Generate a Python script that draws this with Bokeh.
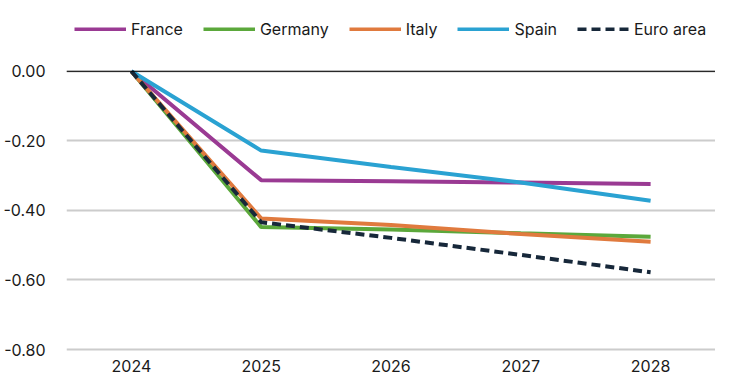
from bokeh.plotting import figure
from bokeh.models import Legend, LegendItem, Span, FixedTicker, Range1d, NumeralTickFormatter
from bokeh.embed import file_html
from bokeh.resources import INLINE

years = ["2024", "2025", "2026", "2027", "2028"]
france = [0.0, -0.313, -0.316, -0.320, -0.324]
germany = [0.0, -0.448, -0.455, -0.466, -0.476]
italy = [0.0, -0.423, -0.442, -0.468, -0.490]
spain = [0.0, -0.228, -0.275, -0.320, -0.372]
euro_area = [0.0, -0.434, -0.479, -0.528, -0.578]
y_ticks = [-0.8, -0.6, -0.4, -0.2, 0.0]

FONT = "Inter"

p = figure(width=715, height=374, x_range=years, y_range=Range1d(-0.8086, 0.2036),
           output_backend="svg", toolbar_location=None,
           min_border_left=62, min_border_right=0, min_border_top=0, min_border_bottom=11)
p.outline_line_color = None
p.background_fill_color = "white"
p.border_fill_color = "white"

series = [
    ("France", france, "#9a3a93", None),
    ("Germany", germany, "#5ba83b", None),
    ("Italy", italy, "#e07a3e", None),
    ("Spain", spain, "#2aa2d2", None),
    ("Euro area", euro_area, "#17283a", "9 5"),
]
items = []
for name, vals, col, dash in series:
    kw = {}
    if dash:
        kw["line_dash"] = dash
    r = p.line(years, vals, line_color=col, line_width=4, **kw)
    items.append(LegendItem(label=name, renderers=[r]))

p.add_layout(Span(location=0, dimension="width", line_color="black", line_width=1))

p.yaxis.ticker = FixedTicker(ticks=y_ticks)
p.yaxis.formatter = NumeralTickFormatter(format="0.00")
for ax in (p.xaxis, p.yaxis):
    ax.axis_line_color = None
    ax.major_tick_line_color = None
    ax.minor_tick_line_color = None
    ax.major_label_text_font = FONT
    ax.major_label_text_font_size = "16px"
    ax.major_label_text_color = "#1a1a1a"
p.yaxis.major_label_standoff = 15
p.xaxis.major_label_standoff = 1
p.xgrid.grid_line_color = None
p.ygrid.grid_line_color = "#cccccc"
p.ygrid.grid_line_width = 2
p.ygrid.ticker = FixedTicker(ticks=y_ticks)

legend = Legend(items=items, orientation="horizontal", location=(8, 313),
                glyph_width=52, glyph_height=4, label_standoff=5, spacing=20,
                padding=0, margin=0, border_line_color=None, background_fill_alpha=0,
                label_text_font=FONT, label_text_font_size="16px", label_text_color="#1a1a1a")
p.add_layout(legend)

open("out.html", "w").write(file_html(p, INLINE))
